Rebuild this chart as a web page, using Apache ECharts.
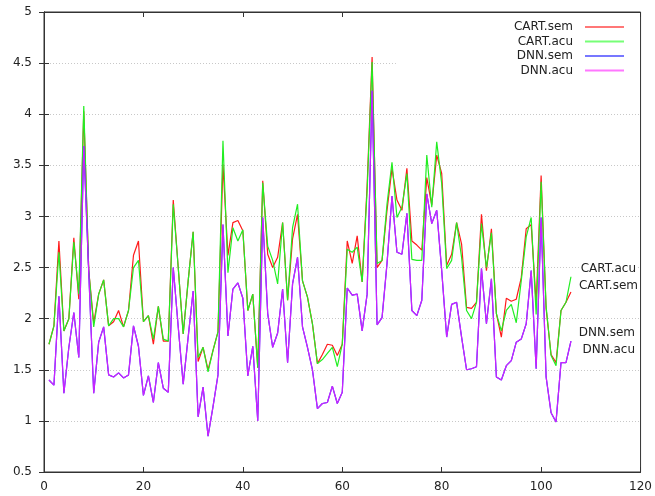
<!DOCTYPE html>
<html>
<head>
<meta charset="utf-8">
<script src="https://cdn.jsdelivr.net/npm/echarts@6/dist/echarts.min.js"></script>
<style>
  html, body { margin: 0; padding: 0; background: #fff; }
  #chart { width: 655px; height: 496px; }
</style>
</head>
<body>
<div id="chart"></div>
<script>
// series names (legend order)
var names = ['CART.sem', 'CART.acu', 'DNN.sem', 'DNN.acu'];

// values for x = 1..106
var cartSem = [
  1.75, 1.93, 2.76, 1.88, 2.00, 2.79, 2.19, 4.03, 2.47, 1.96,
  2.24, 2.38, 1.93, 1.97, 2.08, 1.92, 2.08, 2.62, 2.76, 1.97,
  2.03, 1.75, 2.12, 1.78, 1.78, 3.16, 2.50, 1.85, 2.37, 2.85,
  1.58, 1.72, 1.50, 1.69, 1.87, 3.51, 2.62, 2.94, 2.96, 2.86,
  2.08, 2.24, 1.52, 3.35, 2.63, 2.50, 2.60, 2.94, 2.18, 2.78,
  3.02, 2.37, 2.21, 1.95, 1.56, 1.65, 1.75, 1.74, 1.64, 1.75,
  2.76, 2.54, 2.81, 2.36, 3.30, 4.56, 2.50, 2.57, 3.06, 3.47,
  3.16, 3.06, 3.47, 2.76, 2.72, 2.67, 3.38, 3.11, 3.60, 3.42,
  2.52, 2.63, 2.94, 2.73, 2.11, 2.10, 2.16, 3.02, 2.47, 2.88,
  2.05, 1.82, 2.20, 2.17, 2.19, 2.40, 2.88, 2.92, 2.15, 3.40,
  2.10, 1.65, 1.57, 2.08, 2.16, 2.26
];
var cartAcu = [
  1.75, 1.93, 2.65, 1.88, 2.00, 2.75, 2.24, 4.08, 2.47, 1.92,
  2.24, 2.38, 1.93, 2.00, 2.00, 1.92, 2.08, 2.50, 2.57, 1.97,
  2.03, 1.80, 2.12, 1.80, 1.78, 3.12, 2.50, 1.85, 2.37, 2.85,
  1.62, 1.72, 1.48, 1.69, 1.87, 3.74, 2.45, 2.89, 2.76, 2.87,
  2.08, 2.24, 1.52, 3.33, 2.71, 2.57, 2.34, 2.94, 2.18, 2.89,
  3.12, 2.37, 2.21, 1.95, 1.56, 1.60, 1.66, 1.72, 1.53, 1.75,
  2.68, 2.65, 2.70, 2.36, 3.25, 4.51, 2.54, 2.57, 3.12, 3.53,
  2.99, 3.09, 3.42, 2.58, 2.57, 2.57, 3.60, 3.09, 3.73, 3.32,
  2.49, 2.57, 2.94, 2.60, 2.08, 2.00, 2.16, 2.93, 2.50, 2.84,
  2.05, 1.88, 2.08, 2.14, 1.96, 2.37, 2.80, 2.99, 2.04, 3.34,
  2.12, 1.64, 1.54, 2.08, 2.16, 2.41
];
var dnnSem = [
  1.40, 1.35, 2.22, 1.27, 1.72, 2.06, 1.62, 3.69, 2.45, 1.27,
  1.77, 1.92, 1.45, 1.43, 1.47, 1.42, 1.45, 1.93, 1.73, 1.25,
  1.44, 1.18, 1.57, 1.32, 1.28, 2.50, 1.92, 1.36, 1.82, 2.27,
  1.04, 1.33, 0.85, 1.14, 1.45, 2.92, 1.83, 2.29, 2.35, 2.20,
  1.44, 1.73, 1.00, 2.99, 2.05, 1.72, 1.86, 2.29, 1.57, 2.34,
  2.60, 1.92, 1.72, 1.50, 1.12, 1.17, 1.18, 1.34, 1.17, 1.28,
  2.30, 2.23, 2.24, 1.88, 2.24, 4.23, 1.94, 2.01, 2.54, 3.20,
  2.65, 2.63, 3.03, 2.08, 2.03, 2.18, 3.22, 2.93, 3.06, 2.47,
  1.82, 2.14, 2.16, 1.82, 1.50, 1.51, 1.53, 2.49, 1.95, 2.39,
  1.43, 1.40, 1.54, 1.59, 1.77, 1.80, 1.95, 2.47, 1.51, 2.99,
  1.43, 1.08, 0.99, 1.57, 1.57, 1.78
];
var dnnAcu = [
  1.40, 1.35, 2.22, 1.27, 1.72, 2.06, 1.62, 3.69, 2.45, 1.27,
  1.77, 1.92, 1.45, 1.43, 1.47, 1.42, 1.45, 1.93, 1.73, 1.25,
  1.44, 1.18, 1.57, 1.32, 1.28, 2.50, 1.92, 1.36, 1.82, 2.27,
  1.04, 1.33, 0.85, 1.14, 1.45, 2.92, 1.83, 2.29, 2.35, 2.20,
  1.44, 1.73, 1.00, 2.99, 2.05, 1.72, 1.86, 2.29, 1.57, 2.34,
  2.60, 1.92, 1.72, 1.50, 1.12, 1.17, 1.18, 1.34, 1.17, 1.28,
  2.30, 2.23, 2.24, 1.88, 2.24, 4.23, 1.94, 2.01, 2.54, 3.20,
  2.65, 2.63, 3.03, 2.08, 2.03, 2.18, 3.22, 2.93, 3.06, 2.47,
  1.82, 2.14, 2.16, 1.82, 1.50, 1.51, 1.53, 2.49, 1.95, 2.39,
  1.43, 1.40, 1.54, 1.59, 1.77, 1.80, 1.95, 2.47, 1.51, 2.99,
  1.43, 1.08, 0.99, 1.57, 1.57, 1.78
];

// labels at the right end of the curves
var endLabels = ['CART.acu', 'CART.sem', 'DNN.sem', 'DNN.acu'];

var colors = ['#ff1a1a', '#22ee22', '#3030ff', '#cc22ff'];
var keyColors = ['#ff7777', '#77ff77', '#7777ff', '#ff77ff'];
var FONT = 'DejaVu Sans';

// thin horizontal bar centred in a 40x12 box
var KEY_ICON = 'path://M0,0L0,0M0,5L40,5L40,7L0,7ZM0,12L0,12';

function pairs(vals) {
  var out = [];
  for (var i = 0; i < vals.length; i++) {
    out.push([i + 1, vals[i]]);
  }
  return out;
}

var myChart = echarts.init(document.getElementById('chart'));

var tickStyle = { inside: true, length: 5, lineStyle: { color: '#333' } };

var legendData = names.map(function (n, i) {
  return {
    name: n, icon: KEY_ICON,
    itemStyle: { color: keyColors[i], borderColor: keyColors[i], borderWidth: 0 },
    lineStyle: { color: keyColors[i] }
  };
});

var option = {
  animation: false,
  backgroundColor: '#fff',
  textStyle: { fontFamily: FONT },
  grid: {
    left: 44, right: 14, top: 12, bottom: 24,
    show: true, borderColor: '#333', borderWidth: 1, backgroundColor: 'transparent'
  },
  legend: {
    data: legendData,
    orient: 'vertical',
    right: 15,
    top: 13,
    align: 'right',
    itemWidth: 39,
    itemHeight: 12,
    itemGap: 2.5,
    padding: [8, 16, 3, 118],
    backgroundColor: '#fff',
    itemStyle: { borderWidth: 0 },
    textStyle: { fontSize: 12, color: '#222', fontFamily: FONT, padding: [0, 7, 0, 0] }
  },
  xAxis: [{
    type: 'value', min: 0, max: 120, interval: 20,
    axisLine: { show: true, onZero: false, lineStyle: { color: '#333' } },
    axisTick: tickStyle,
    axisLabel: { fontSize: 12, color: '#222', margin: 9, fontFamily: FONT },
    splitLine: { show: false }
  }, {
    type: 'value', min: 0, max: 120, interval: 20, position: 'top',
    axisLine: { show: true, lineStyle: { color: '#333' } },
    axisTick: tickStyle,
    axisLabel: { show: false },
    splitLine: { show: false }
  }],
  yAxis: [{
    type: 'value', min: 0.5, max: 5, interval: 0.5,
    axisLine: { show: true, onZero: false, lineStyle: { color: '#333' } },
    axisTick: tickStyle,
    axisLabel: { fontSize: 12, color: '#222', margin: 12, fontFamily: FONT },
    splitLine: { show: true, lineStyle: { color: '#c8c8c8', type: [1, 2], width: 1 } }
  }, {
    type: 'value', min: 0.5, max: 5, interval: 0.5, position: 'right',
    axisLine: { show: true, lineStyle: { color: '#333' } },
    axisTick: tickStyle,
    axisLabel: { show: false },
    splitLine: { show: false }
  }],
  series: [
    { name: names[0], type: 'line', data: pairs(cartSem), symbol: 'none',
      lineStyle: { color: colors[0], width: 1.2 }, itemStyle: { color: colors[0] }, z: 2 },
    { name: names[1], type: 'line', data: pairs(cartAcu), symbol: 'none',
      lineStyle: { color: colors[1], width: 1.2 }, itemStyle: { color: colors[1] }, z: 3 },
    { name: names[2], type: 'line', data: pairs(dnnSem), symbol: 'none',
      lineStyle: { color: colors[2], width: 1.2 }, itemStyle: { color: colors[2] }, z: 4 },
    { name: names[3], type: 'line', data: pairs(dnnAcu), symbol: 'none',
      lineStyle: { color: colors[3], width: 1.2 }, itemStyle: { color: colors[3] }, z: 5 }
  ],
  graphic: [
    { type: 'text', right: 19, top: 263, z: 100,
      style: { text: endLabels[0], font: '12px ' + FONT, fill: '#222', backgroundColor: '#fff' } },
    { type: 'text', right: 17, top: 280, z: 100,
      style: { text: endLabels[1], font: '12px ' + FONT, fill: '#222', backgroundColor: '#fff' } },
    { type: 'text', right: 20, top: 327, z: 100,
      style: { text: endLabels[2], font: '12px ' + FONT, fill: '#222', backgroundColor: '#fff' } },
    { type: 'text', right: 20, top: 344, z: 100,
      style: { text: endLabels[3], font: '12px ' + FONT, fill: '#222', backgroundColor: '#fff' } }
  ]
};

myChart.setOption(option);
</script>
</body>
</html>
